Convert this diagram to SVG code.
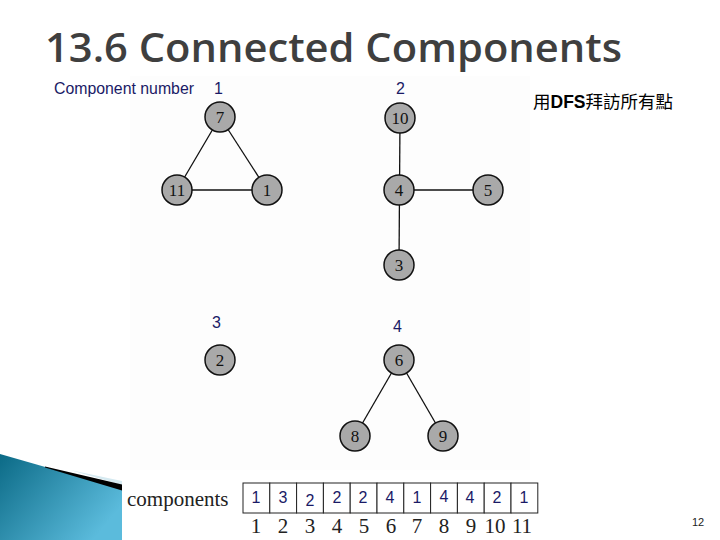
<svg xmlns="http://www.w3.org/2000/svg" width="720" height="540" viewBox="0 0 720 540">
<style>
.title{font-family:"Open Sans","Noto Sans",sans-serif;font-weight:600;font-size:40px;fill:#3f3f3f}
.cl{font-family:"Liberation Sans",Arial,sans-serif;font-size:16px;fill:#1a1a66}
.node circle{fill:#a9a9a9;stroke:#111;stroke-width:1.5}
.node text{font-family:"Liberation Serif","Times New Roman",serif;font-size:17px;fill:#111;text-anchor:middle}
.edges line{stroke:#111;stroke-width:1.3}
.cell{fill:#fff;stroke:#222;stroke-width:1}
.cv{font-family:"Liberation Sans",Arial,sans-serif;font-size:16px;fill:#1a1a66;text-anchor:middle}
.idx{font-family:"Liberation Serif","Times New Roman",serif;font-size:21px;fill:#222;text-anchor:middle}
</style>
<defs>
<linearGradient id="teal" x1="0" y1="0" x2="1" y2="0.6">
<stop offset="0" stop-color="#0b6a86"/>
<stop offset="1" stop-color="#5bbbdc"/>
</linearGradient>
</defs>
<rect width="720" height="540" fill="#fff"/>
<rect x="130" y="76" width="400" height="394" fill="#fdfdfd"/>
<text class="title" x="45" y="62" textLength="577" lengthAdjust="spacingAndGlyphs">13.6 Connected Components</text>
<text class="cl" x="54" y="94" textLength="140" lengthAdjust="spacingAndGlyphs">Component number</text>
<text class="cl" x="214" y="94">1</text>
<text class="cl" x="396" y="94">2</text>
<text class="cl" x="212" y="328">3</text>
<text class="cl" x="393" y="332">4</text>
<text x="533" y="108" font-family="'Noto Sans CJK TC','Noto Sans CJK SC',sans-serif" font-size="17.5" fill="#000">用<tspan font-family="'Liberation Sans',Arial,sans-serif" font-weight="bold">DFS</tspan>拜訪所有點</text>
<g class="edges">
<line x1="220" y1="117" x2="177" y2="190"/>
<line x1="220" y1="117" x2="267" y2="190"/>
<line x1="177" y1="190" x2="267" y2="190"/>
<line x1="400" y1="118" x2="399" y2="265"/>
<line x1="399" y1="190" x2="488" y2="190"/>
<line x1="399" y1="360" x2="355" y2="436"/>
<line x1="399" y1="360" x2="443" y2="436"/>
</g>
<g id="n7" class="node"><circle cx="220" cy="117" r="15"/><text x="220" y="123">7</text></g>
<g id="n11" class="node"><circle cx="177" cy="190" r="15"/><text x="177" y="196">11</text></g>
<g id="n1" class="node"><circle cx="267" cy="190" r="15"/><text x="267" y="196">1</text></g>
<g id="n10" class="node"><circle cx="400" cy="118" r="15"/><text x="400" y="124">10</text></g>
<g id="n4" class="node"><circle cx="399" cy="190" r="15"/><text x="399" y="196">4</text></g>
<g id="n5" class="node"><circle cx="488" cy="190" r="15"/><text x="488" y="196">5</text></g>
<g id="n3" class="node"><circle cx="399" cy="265" r="15"/><text x="399" y="271">3</text></g>
<g id="n2" class="node"><circle cx="220" cy="360" r="15"/><text x="220" y="366">2</text></g>
<g id="n6" class="node"><circle cx="399" cy="360" r="15"/><text x="399" y="366">6</text></g>
<g id="n8" class="node"><circle cx="355" cy="436" r="15"/><text x="355" y="442">8</text></g>
<g id="n9" class="node"><circle cx="443" cy="436" r="15"/><text x="443" y="442">9</text></g>
<g id="deco">
<polygon points="0,454 122,489 122,540 0,540" fill="url(#teal)"/>
<polygon points="70,470 122,481 122,485" fill="#d6eaf1"/>
<polygon points="45,466.5 122,484.5 122,490.5 45,467.5" fill="#000"/>
</g>
<text x="127" y="506" font-family="'Liberation Serif','Times New Roman',serif" font-size="21" fill="#222">components</text>
<g id="table">
<rect class="cell" x="243" y="483" width="26.8" height="30"/>
<rect class="cell" x="269.8" y="483" width="26.8" height="30"/>
<rect class="cell" x="296.6" y="483" width="26.8" height="30"/>
<rect class="cell" x="323.4" y="483" width="26.8" height="30"/>
<rect class="cell" x="350.2" y="483" width="26.8" height="30"/>
<rect class="cell" x="377" y="483" width="26.8" height="30"/>
<rect class="cell" x="403.8" y="483" width="26.8" height="30"/>
<rect class="cell" x="430.6" y="483" width="26.8" height="30"/>
<rect class="cell" x="457.4" y="483" width="26.8" height="30"/>
<rect class="cell" x="484.2" y="483" width="26.8" height="30"/>
<rect class="cell" x="511" y="483" width="26.8" height="30"/>
<text class="cv" x="256" y="503">1</text>
<text class="cv" x="283" y="503">3</text>
<text class="cv" x="310" y="506">2</text>
<text class="cv" x="337" y="503">2</text>
<text class="cv" x="363" y="503">2</text>
<text class="cv" x="390" y="503">4</text>
<text class="cv" x="417" y="503">1</text>
<text class="cv" x="444" y="502">4</text>
<text class="cv" x="470" y="503">4</text>
<text class="cv" x="497" y="503">2</text>
<text class="cv" x="524" y="503">1</text>
<text class="idx" x="256" y="533">1</text>
<text class="idx" x="283" y="533">2</text>
<text class="idx" x="310" y="533">3</text>
<text class="idx" x="337" y="533">4</text>
<text class="idx" x="364" y="533">5</text>
<text class="idx" x="391" y="533">6</text>
<text class="idx" x="417" y="533">7</text>
<text class="idx" x="444" y="533">8</text>
<text class="idx" x="471" y="533">9</text>
<text class="idx" x="495" y="533">10</text>
<text class="idx" x="522" y="533">11</text>
</g>
<text x="698" y="526" font-family="'Liberation Sans',Arial,sans-serif" font-size="11" fill="#222" text-anchor="middle">12</text>
</svg>
